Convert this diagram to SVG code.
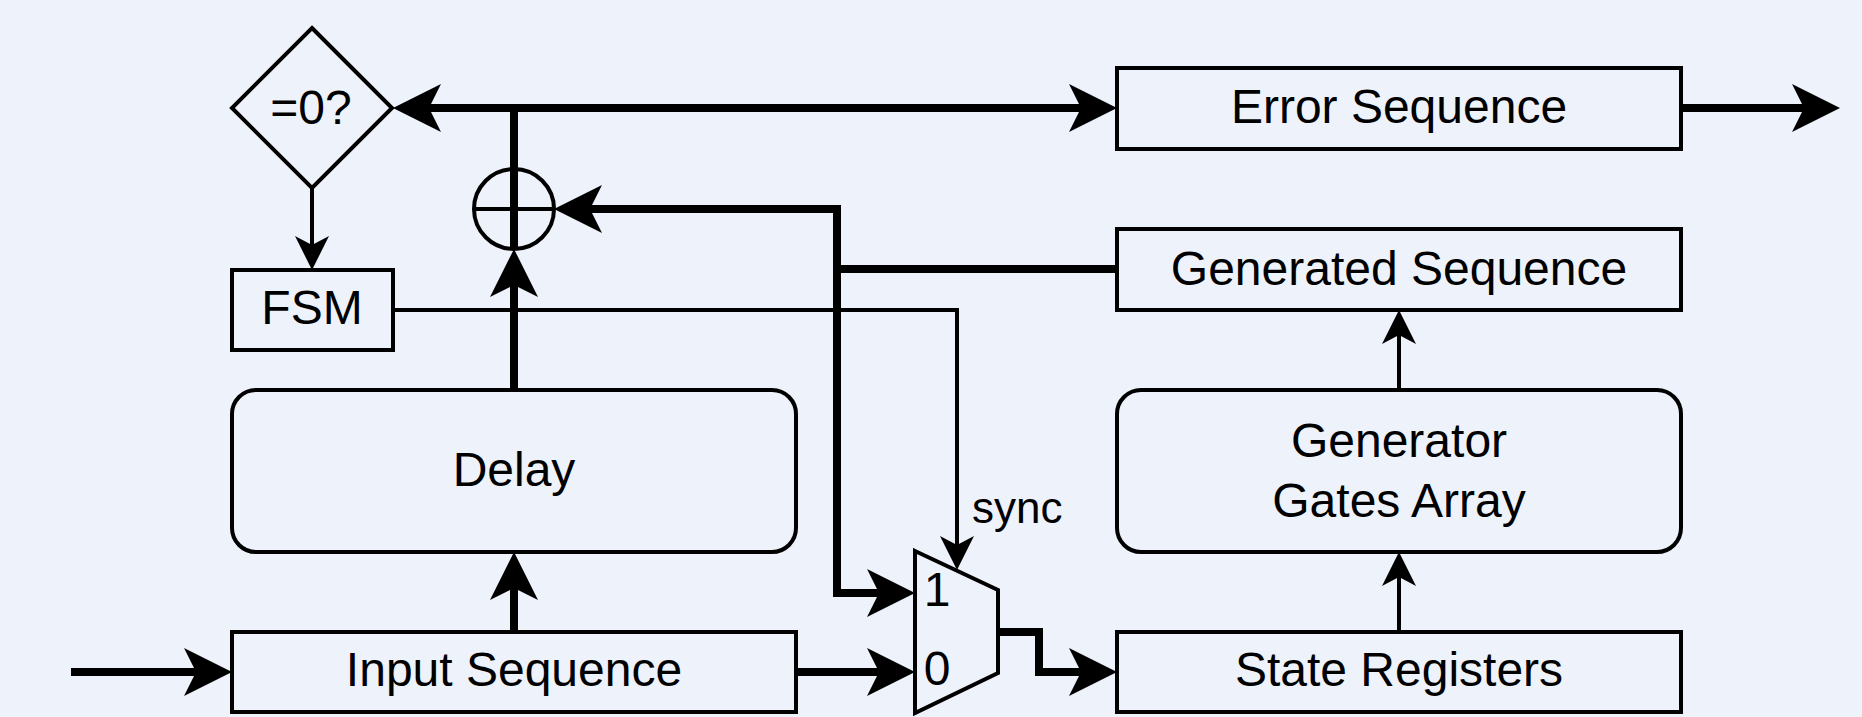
<svg xmlns="http://www.w3.org/2000/svg" width="1862" height="717" viewBox="0 0 1862 717">
  <style>
    .box { fill: none; stroke: #000; stroke-width: 4; }
    .lbl { font-family: "Liberation Sans", Arial, sans-serif; font-size: 48px; fill: #000; text-anchor: middle; }
    .small { font-family: "Liberation Sans", Arial, sans-serif; font-size: 44px; fill: #000; }
    .thick { fill: none; stroke: #000; stroke-width: 8; stroke-linejoin: miter; }
    .thin { fill: none; stroke: #000; stroke-width: 4; stroke-linejoin: miter; }
    .thick.arrow { marker-end: url(#ahThick); }
    .thin.arrow { marker-end: url(#ahThin); }
  </style>
  <defs>
    <!-- classic notched arrowheads; the path end sits on the notch -->
    <marker id="ahThick" markerUnits="userSpaceOnUse" viewBox="0 0 48 48" refX="12" refY="24" markerWidth="48" markerHeight="48" orient="auto-start-reverse">
      <path d="M48,24 L0,0 L12,24 L0,48 Z" fill="#000"/>
    </marker>
    <marker id="ahThin" markerUnits="userSpaceOnUse" viewBox="0 0 34 34" refX="9" refY="17" markerWidth="34" markerHeight="34" orient="auto-start-reverse">
      <path d="M34,17 L0,0 L9,17 L0,34 Z" fill="#000"/>
    </marker>
  </defs>

  <rect x="0" y="0" width="1862" height="717" fill="#EEF2FA"/>

  <!-- wires -->
  <g id="connectors">
    <!-- XOR output to zero test and error sequence -->
    <path class="thick" d="M514,169 L514,108"/>
    <path class="thick" d="M429,108 L1081,108" marker-start="url(#ahThick)" marker-end="url(#ahThick)"/>
    <path class="thick arrow" d="M1681,108 L1804,108"/>
    <!-- zero test to FSM -->
    <path class="thin arrow" d="M312,188 L312,245"/>
    <!-- FSM sync to mux select -->
    <path class="thin arrow" d="M393,310 L957,310 L957,545"/>
    <!-- generated sequence fan-out -->
    <path class="thick" d="M1117,269 L837,269"/>
    <path class="thick arrow" d="M837,269 L837,209 L590,209"/>
    <path class="thick arrow" d="M837,269 L837,593 L879,593"/>
    <!-- delay path -->
    <path class="thick arrow" d="M514,390 L514,285"/>
    <path class="thick arrow" d="M514,632 L514,588"/>
    <!-- input -->
    <path class="thick arrow" d="M71,672 L196,672"/>
    <path class="thick arrow" d="M796,672 L879,672"/>
    <!-- mux output to state registers -->
    <path class="thick arrow" d="M998,632 L1039,632 L1039,672 L1081,672"/>
    <!-- generator chain -->
    <path class="thin arrow" d="M1399,632 L1399,577"/>
    <path class="thin arrow" d="M1399,390 L1399,335"/>
  </g>

  <g id="zero-test">
    <polygon class="box" points="312,28 392,108 312,188 232,108"/>
    <text class="lbl" x="311" y="124">=0?</text>
  </g>

  <g id="fsm">
    <rect class="box" x="232" y="270" width="161" height="80"/>
    <text class="lbl" x="312" y="324">FSM</text>
  </g>

  <g id="xor">
    <circle class="box" cx="514" cy="209" r="40"/>
    <line x1="474" y1="209" x2="554" y2="209" stroke="#000" stroke-width="4"/>
    <line x1="514" y1="169" x2="514" y2="249" stroke="#000" stroke-width="8"/>
  </g>

  <g id="error-sequence">
    <rect class="box" x="1117" y="68" width="564" height="81"/>
    <text class="lbl" x="1399" y="123">Error Sequence</text>
  </g>

  <g id="generated-sequence">
    <rect class="box" x="1117" y="229" width="564" height="81"/>
    <text class="lbl" x="1399" y="285">Generated Sequence</text>
  </g>

  <g id="generator-gates">
    <rect class="box" x="1117" y="390" width="564" height="162" rx="24" ry="24"/>
    <text class="lbl" x="1399" y="457">Generator</text>
    <text class="lbl" x="1399" y="517">Gates Array</text>
  </g>

  <g id="state-registers">
    <rect class="box" x="1117" y="632" width="564" height="80"/>
    <text class="lbl" x="1399" y="686">State Registers</text>
  </g>

  <g id="delay">
    <rect class="box" x="232" y="390" width="564" height="162" rx="24" ry="24"/>
    <text class="lbl" x="514" y="486">Delay</text>
  </g>

  <g id="input-sequence">
    <rect class="box" x="232" y="632" width="564" height="80"/>
    <text class="lbl" x="514" y="686">Input Sequence</text>
  </g>

  <g id="mux">
    <polygon class="box" points="915,551 998,590 998,673 915,713"/>
    <text class="lbl" x="937" y="606">1</text>
    <text class="lbl" x="937" y="685">0</text>
    <text class="small" x="972" y="523">sync</text>
  </g>
</svg>
